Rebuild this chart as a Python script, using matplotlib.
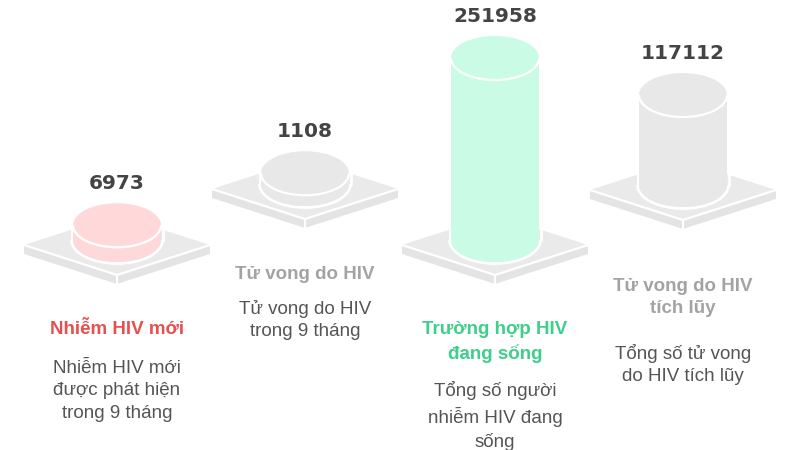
import matplotlib.pyplot as plt
from matplotlib.patches import Polygon, Ellipse, Rectangle, Arc

# ----------------------------------------------------------------------------
# data
# ----------------------------------------------------------------------------
values = [6973, 1108, 251958, 117112]
titles = ['Nhiễm HIV mới', 'Tử vong do HIV', 'Trường hợp HIV\nđang sống',
          'Tử vong do HIV\ntích lũy']
descriptions = ['Nhiễm HIV mới\nđược phát hiện\ntrong 9 tháng',
                'Tử vong do HIV\ntrong 9 tháng',
                'Tổng số người\nnhiễm HIV đang\nsống',
                'Tổng số tử vong\ndo HIV tích lũy']

# ----------------------------------------------------------------------------
# styles / layout
# ----------------------------------------------------------------------------
cyl_colors = ['#ffd9d9', '#e8e8e8', '#c9fbe5', '#e8e8e8']
title_colors = ['#e8504f', '#a3a3a3', '#3ecf8a', '#a3a3a3']
desc_color = '#555555'
plat_color = '#eaeaea'

centers_x = [117, 305, 495, 683]
plat_y = [245, 189, 245, 190]     # centre of each platform's top face
title_y = [321, 266, 321, 278]
desc_y = [360, 300, 381, 344]

plat_w, plat_h, plat_t = 93, 30, 9
rx, ry = 44, 22
h_min, h_span = 10, 172
vmax = max(values)

fig = plt.figure(figsize=(8, 4.5), dpi=100)
ax = fig.add_axes([0, 0, 1, 1])
ax.set_xlim(0, 800)
ax.set_ylim(450, 0)
ax.set_aspect('equal')
ax.axis('off')

for i, v in enumerate(values):
    cx, cy = centers_x[i], plat_y[i]

    # platform slab
    top = [(cx - plat_w, cy), (cx, cy - plat_h), (cx + plat_w, cy), (cx, cy + plat_h)]
    left = [(cx - plat_w, cy), (cx, cy + plat_h), (cx, cy + plat_h + plat_t),
            (cx - plat_w, cy + plat_t)]
    right = [(cx + plat_w, cy), (cx, cy + plat_h), (cx, cy + plat_h + plat_t),
             (cx + plat_w, cy + plat_t)]
    ax.add_patch(Polygon(left, closed=True, fc='#e4e4e4', ec='none', zorder=1))
    ax.add_patch(Polygon(right, closed=True, fc='#e4e4e4', ec='none', zorder=1))
    ax.add_patch(Polygon(top, closed=True, fc=plat_color, ec='none', zorder=1))
    ax.plot([cx - plat_w, cx, cx + plat_w], [cy, cy + plat_h, cy],
            color='white', lw=1.6, zorder=2)
    ax.plot([cx, cx], [cy + plat_h, cy + plat_h + plat_t], color='white', lw=1.6, zorder=2)

    # cylinder
    h = h_min + v / vmax * h_span
    base = cy - 5
    ctop = base - h
    col = cyl_colors[i]
    ax.add_patch(Ellipse((cx, base), 2 * rx, 2 * ry, fc=col, ec='none', zorder=3))
    ax.add_patch(Rectangle((cx - rx, ctop), 2 * rx, h, fc=col, ec='none', zorder=3))
    ax.add_patch(Ellipse((cx, ctop), 2 * rx, 2 * ry, fc=col, ec='none', zorder=4))
    # white outlines
    ax.add_patch(Arc((cx, base), 2 * rx + 3, 2 * ry + 3, theta1=0, theta2=180,
                     color='white', lw=2, zorder=2.9))
    ax.plot([cx - rx - 1.5, cx - rx - 1.5], [ctop, base], color='white', lw=2, zorder=2.9)
    ax.plot([cx + rx + 1.5, cx + rx + 1.5], [ctop, base], color='white', lw=2, zorder=2.9)
    ax.add_patch(Arc((cx, ctop), 2 * rx, 2 * ry, theta1=0, theta2=180,
                     color='white', lw=1.6, zorder=5))

    # value label
    ax.text(cx, ctop - ry - 20, str(v), ha='center', va='center', fontsize=14.5,
            fontweight='bold', color='#444444', family='DejaVu Sans', zorder=6)

    # category title and description
    ax.text(cx, title_y[i], titles[i], ha='center', va='top', fontsize=13.5,
            fontweight='bold', color=title_colors[i], family='Liberation Sans',
            linespacing=1.42)
    ax.text(cx, desc_y[i], descriptions[i], ha='center', va='top', fontsize=13.5,
            color=desc_color, family='Liberation Sans', linespacing=1.42)

fig.savefig('out.png', dpi=100)
